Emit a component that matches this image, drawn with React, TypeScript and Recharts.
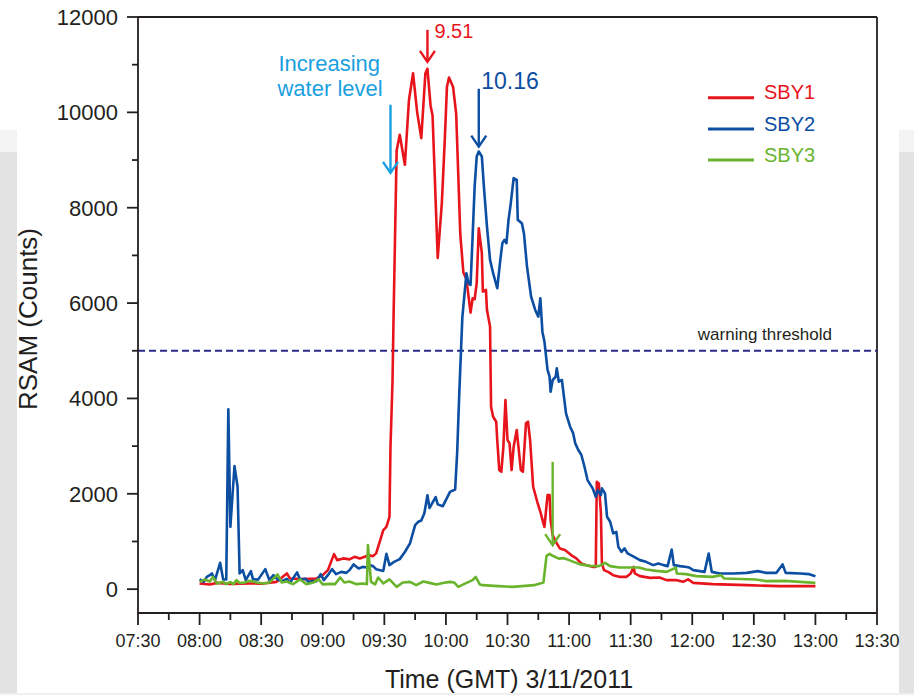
import { LineChart, Line, XAxis, YAxis, ReferenceLine, Legend } from "recharts";

const INK = "#231f20";
const RED = "#e8141c";
const BLUE = "#0b4ea2";
const GREEN = "#6ab42d";
const CYAN = "#1aa0e0";
const THRESHOLD_INK = "#2b2a8a";
const FONT = '"Liberation Sans", Arial, Helvetica, sans-serif';

// [minutes after midnight GMT, RSAM counts]
const SBY1: [number, number][] = [
  [480, 120], [485, 99], [488.5, 132], [495, 110], [504.5, 120], [510, 115], [517.5, 153], [522.5, 330],
  [524, 225], [530.5, 210], [537, 225], [540, 294], [542.5, 399], [545.5, 735], [547, 609], [550, 645],
  [553, 624], [555.5, 678], [558, 645], [560.5, 678], [562, 714], [564.5, 693], [566, 750], [568, 1029],
  [569.5, 1239], [571, 1308], [572.5, 1518], [573, 2987], [574, 4387], [574.5, 5716], [576, 9200],
  [577.5, 9530], [580, 8900], [582, 10260], [584, 10820], [586, 10000], [588, 9460], [590, 10820],
  [591, 10915], [592.5, 10150], [593.5, 9930], [596, 6945], [598, 8090], [599.5, 9470], [600.5, 10530],
  [601.5, 10730], [603.5, 10530], [605, 9970], [607, 7450], [607.5, 7180], [608.5, 6640], [610, 6500],
  [612, 5800], [613, 6100], [614, 6080], [615, 6420], [616, 7570], [617.5, 7046], [618, 6241],
  [619.5, 6276], [620, 5856], [621.5, 5506], [622, 3827], [623, 3617], [624.5, 3512], [625, 3128],
  [626, 2498], [627, 2462], [628, 2987], [629, 3967], [630, 3128], [631, 3058], [632, 2498], [633, 2987],
  [634.5, 3337], [635.5, 2918], [636.5, 2498], [637.5, 2462], [639, 3478], [640, 3512], [641, 3128],
  [642.5, 2148], [644.5, 1833], [646, 1623], [647.5, 1379], [648, 1308], [649.5, 1973], [650.5, 1973],
  [651, 1449], [652, 1134], [654, 959], [655.5, 854], [658, 819], [661, 714], [663.5, 645], [666, 539],
  [668.5, 504], [671.5, 468], [673, 468], [673.5, 2252], [674.5, 2218], [675.5, 1589], [676, 539],
  [677, 399], [679, 363], [681.5, 294], [684.5, 258], [688, 258], [690, 330], [691.5, 468], [692, 330],
  [694.5, 273], [699.5, 237], [704, 245], [707.5, 189], [712.5, 189], [715.5, 153], [718, 204],
  [720.5, 132], [730, 105], [746.5, 84], [762.5, 63], [780, 63],
];

const SBY2: [number, number][] = [
  [480, 204], [482, 153], [483.5, 258], [485, 294], [486, 330], [487.5, 189], [490, 552], [491.5, 204],
  [493, 204], [494, 3773], [495, 1308], [497, 2583], [498.5, 2148], [499.5, 330], [501, 399], [502.5, 189],
  [505, 378], [506, 210], [508.5, 200], [512, 420], [514, 189], [516, 294], [518, 204], [520, 168],
  [522.5, 216], [524, 132], [527.5, 351], [529, 204], [531.5, 220], [533, 153], [535, 168], [537, 168],
  [539, 315], [540.5, 189], [542.5, 294], [544.5, 420], [546.5, 315], [549, 363], [551.5, 342], [553, 399],
  [555, 519], [557.5, 435], [559.5, 468], [561.5, 456], [562.5, 504], [564.5, 483], [566, 420],
  [568.5, 391], [569.5, 384], [571, 740], [572.5, 504], [575, 579], [577.5, 630], [580, 780], [582.5, 960],
  [585, 1344], [586.5, 1413], [588, 1440], [589.5, 1591], [591, 1970], [592, 1702], [595, 1929],
  [596, 1778], [598.5, 1740], [602, 2040], [604.5, 2090], [605.5, 2880], [606.5, 4100], [608, 5700],
  [610, 6627], [611, 6417], [612, 6380], [613, 7394], [614, 8444], [615, 9074], [616, 9179],
  [617.5, 9074], [618.5, 8444], [620, 7604], [621.5, 6906], [623, 6627], [625, 6311], [626.5, 6906],
  [627.5, 7256], [628.5, 7326], [629.5, 7256], [630.5, 7745], [631.5, 8060], [633, 8620], [634.5, 8585],
  [635, 7745], [637, 7676], [638, 7466], [639.5, 6765], [641.5, 6136], [643.5, 5856], [645, 5716],
  [646, 6101], [647, 5400], [648, 5191], [649.5, 4600], [650.5, 4456], [651, 4141], [652, 4387],
  [653.5, 4456], [654, 4632], [655, 4351], [656.5, 4387], [657.5, 4036], [658.5, 3688], [660.5, 3407],
  [662, 3267], [663, 3058], [664.5, 2918], [666, 2813], [667.5, 2567], [669, 2288], [671.5, 2114],
  [673, 1937], [674, 2078], [675.5, 1973], [676, 2114], [677.5, 2009], [678.5, 1518], [680, 1413],
  [681.5, 1169], [683, 1203], [684, 888], [685.5, 783], [687, 854], [688.5, 749], [691, 693], [694.5, 609],
  [697.5, 573], [701, 504], [703.5, 539], [706, 504], [708, 483], [710, 830], [711, 504], [714, 483],
  [716.5, 470], [718.5, 455], [720.5, 399], [726, 363], [728, 749], [729.5, 363], [733.5, 330], [740, 330],
  [746.5, 342], [752, 378], [756, 342], [761, 342], [764, 519], [765.5, 342], [772.5, 330], [777, 315],
  [780, 273],
];

const SBY3: [number, number][] = [
  [480, 153], [482.5, 204], [485, 160], [486.5, 258], [488.5, 120], [491.5, 153], [493, 105], [495, 150],
  [496.5, 105], [498, 189], [499.5, 130], [502, 140], [504.5, 174], [508, 140], [511, 120], [514, 140],
  [518, 309], [520, 140], [522.5, 160], [525.5, 105], [529, 204], [532, 105], [535.5, 140], [538, 204],
  [540, 100], [543.5, 110], [546, 105], [548.5, 245], [550.5, 140], [553, 160], [556.5, 105], [559.5, 120],
  [561.5, 105], [562, 924], [563.5, 153], [565.5, 100], [567, 245], [569.5, 120], [572.5, 204], [576, 48],
  [579, 140], [582.5, 153], [585.5, 84], [589, 160], [592, 132], [595.5, 99], [598.5, 130], [602, 153],
  [604, 140], [606, 48], [609, 110], [613, 189], [614.5, 258], [616.5, 100], [618, 84], [623.5, 69],
  [632.5, 48], [643, 84], [647.5, 140], [649, 700], [650.5, 740], [652, 700], [655, 640], [657.5, 650],
  [660, 609], [665, 525], [670, 489], [674.5, 483], [677.5, 552], [680, 483], [684.5, 455], [694, 455],
  [697.5, 413], [702.5, 384], [707.5, 363], [712, 450], [712.5, 330], [717, 315], [722, 273], [730, 258],
  [734, 294], [735.5, 225], [751, 204], [756, 168], [765, 174], [780, 132],
];

const TIME_LABELS = ["07:30", "08:00", "08:30", "09:00", "09:30", "10:00", "10:30", "11:00", "11:30", "12:00", "12:30", "13:00", "13:30"];
const COUNT_LABELS = [0, 2000, 4000, 6000, 8000, 10000, 12000];
const WARNING_LEVEL = 5000;

// peak markers: label is the clock time (h.mm) the arrow points at
const PEAK_NOTES = [
  { label: "9.51", color: RED, from: 11730, to: 11060, fontSize: 20, dx: 7, dy: 8 },
  { label: "10.16", color: BLUE, from: 10495, to: 9280, fontSize: 23, dx: 2.5, dy: 0 },
];
const WATER_NOTE = { lines: ["Increasing", "water level"], time: 573, from: 10160, to: 8730 };
const SBY3_MARK = { time: 652, from: 2670, to: 925 };

const SERIES = [
  { name: "SBY1", color: RED, points: SBY1 },
  { name: "SBY2", color: BLUE, points: SBY2 },
  { name: "SBY3", color: GREEN, points: SBY3 },
];

const toMinutes = (hhmm: string) => {
  const [h, m] = hhmm.split(/[:.]/).map(Number);
  return h * 60 + m;
};
const pad = (n: number) => String(n).padStart(2, "0");
const clock = (min: number) => `${pad(Math.floor(min / 60))}:${pad(min % 60)}`;

const majorTimes = TIME_LABELS.map(toMinutes);
const timeTicks = majorTimes.flatMap((t, i) => (i < majorTimes.length - 1 ? [t, t + 15] : [t]));
const countTicks = COUNT_LABELS.flatMap((v, i) => (i < COUNT_LABELS.length - 1 ? [v, v + 1000] : [v]));

function TimeTick({ x, y, payload }: any) {
  const major = payload.value % 30 === 0;
  return (
    <g>
      <line x1={x} x2={x} y1={y} y2={y + (major ? 12 : 7)} stroke={INK} strokeWidth={1.8} />
      {major && (
        <text x={x} y={y + 34} textAnchor="middle" fontSize={18} fill={INK} fontFamily={FONT}>
          {clock(payload.value)}
        </text>
      )}
    </g>
  );
}

function CountTick({ x, y, payload }: any) {
  const major = payload.value % 2000 === 0;
  return (
    <g>
      <line x1={x - (major ? 11 : 6)} x2={x} y1={y} y2={y} stroke={INK} strokeWidth={1.8} />
      {major && (
        <text x={x - 20} y={y} dy="0.36em" textAnchor="end" fontSize={22} fill={INK} fontFamily={FONT}>
          {payload.value}
        </text>
      )}
    </g>
  );
}

function ThresholdLabel({ viewBox }: any) {
  const { x, y, width } = viewBox;
  return (
    <text x={x + width - 45} y={y - 11} textAnchor="end" fontSize={17} fill={INK} fontFamily={FONT}>
      warning threshold
    </text>
  );
}

// vertical arrow drawn on a reference segment, head at the lower end
function arrow(color: string, note?: (x: number, y: number) => any) {
  return (p: any) => {
    const top = p.y1 < p.y2 ? { x: p.x1, y: p.y1 } : { x: p.x2, y: p.y2 };
    const tip = p.y1 < p.y2 ? { x: p.x2, y: p.y2 } : { x: p.x1, y: p.y1 };
    return (
      <g>
        <line x1={top.x} y1={top.y} x2={tip.x} y2={tip.y} stroke={color} strokeWidth={2.4} />
        <polyline
          points={`${tip.x - 7.5},${tip.y - 11} ${tip.x},${tip.y} ${tip.x + 7.5},${tip.y - 11}`}
          fill="none"
          stroke={color}
          strokeWidth={2.4}
        />
        {note && note(top.x, top.y)}
      </g>
    );
  };
}

function SeriesKey({ payload }: any) {
  return (
    <svg width={160} height={100}>
      {(payload || []).map((item: any, i: number) => (
        <g key={item.value}>
          <line x1={0} x2={46} y1={17.7 + i * 31.2} y2={17.7 + i * 31.2} stroke={item.color} strokeWidth={3} />
          <text x={56} y={19.3 + i * 31.2} fontSize={20} fill={item.color} fontFamily={FONT}>
            {item.value}
          </text>
        </g>
      ))}
    </svg>
  );
}

export default function App() {
  return (
    <div style={{ position: "absolute", left: 0, top: 0, width: 914, height: 695, background: "#fff", overflow: "hidden", fontFamily: FONT }}>
      {/* grey page edges behind the figure */}
      <div style={{ position: "absolute", left: 0, top: 130, width: 17, height: 22, background: "#f3f3f3" }} />
      <div style={{ position: "absolute", left: 0, top: 152, width: 17, height: 541, background: "#e3e3e3" }} />
      <div style={{ position: "absolute", left: 899, top: 130, width: 15, height: 22, background: "#f3f3f3" }} />
      <div style={{ position: "absolute", left: 899, top: 152, width: 15, height: 541, background: "#e3e3e3" }} />
      <div style={{ position: "absolute", left: 0, top: 693, width: 914, height: 2, background: "#f0f0f0" }} />

      <div style={{ position: "absolute", left: 0, top: 0 }}>
        <LineChart width={914} height={695} margin={{ top: 17, right: 37, bottom: 42, left: 0 }}>
          <XAxis
            type="number"
            dataKey="t"
            domain={[450, 810]}
            ticks={timeTicks}
            interval={0}
            height={40}
            tickSize={0}
            tickMargin={0}
            tickLine={false}
            tick={<TimeTick />}
            axisLine={{ stroke: INK, strokeWidth: 1.8 }}
            allowDataOverflow
          />
          <YAxis
            type="number"
            domain={[-500, 12000]}
            ticks={countTicks}
            interval={0}
            width={138}
            tickSize={0}
            tickMargin={0}
            tickLine={false}
            tick={<CountTick />}
            axisLine={{ stroke: INK, strokeWidth: 1.8 }}
            allowDataOverflow
          />
          <ReferenceLine y={12000} stroke={INK} strokeWidth={1.8} />
          <ReferenceLine x={810} stroke={INK} strokeWidth={1.8} />
          <ReferenceLine
            y={WARNING_LEVEL}
            stroke={THRESHOLD_INK}
            strokeWidth={2.2}
            strokeDasharray="7 4"
            label={<ThresholdLabel />}
          />
          {SERIES.map((s) => (
            <Line
              key={s.name}
              name={s.name}
              data={s.points.map(([t, v]) => ({ t, v }))}
              dataKey="v"
              type="linear"
              stroke={s.color}
              strokeWidth={2.6}
              strokeLinejoin="round"
              dot={false}
              activeDot={false}
              isAnimationActive={false}
            />
          ))}
          {PEAK_NOTES.map((n) => (
            <ReferenceLine
              key={n.label}
              segment={[{ x: toMinutes(n.label), y: n.from }, { x: toMinutes(n.label), y: n.to }]}
              stroke={n.color}
              shape={arrow(n.color, (x, y) => (
                <text x={x + n.dx} y={y + n.dy} fontSize={n.fontSize} fill={n.color} fontFamily={FONT}>
                  {n.label}
                </text>
              ))}
            />
          ))}
          <ReferenceLine
            segment={[{ x: WATER_NOTE.time, y: WATER_NOTE.from }, { x: WATER_NOTE.time, y: WATER_NOTE.to }]}
            stroke={CYAN}
            shape={arrow(CYAN, (x, y) => (
              <g fontSize={22} fill={CYAN} fontFamily={FONT}>
                <text x={x - 112} y={y - 34}>{WATER_NOTE.lines[0]}</text>
                <text x={x - 113} y={y - 8.5}>{WATER_NOTE.lines[1]}</text>
              </g>
            ))}
          />
          <ReferenceLine
            segment={[{ x: SBY3_MARK.time, y: SBY3_MARK.from }, { x: SBY3_MARK.time, y: SBY3_MARK.to }]}
            stroke={GREEN}
            shape={arrow(GREEN)}
          />
          <Legend
            layout="horizontal"
            align="center"
            verticalAlign="middle"
            content={<SeriesKey />}
            wrapperStyle={{ left: 708, top: 80, width: 160, height: 100 }}
          />
        </LineChart>
      </div>

      <svg width={914} height={695} style={{ position: "absolute", left: 0, top: 0, pointerEvents: "none" }}>
        <text transform="translate(37,319) rotate(-90)" textAnchor="middle" fontSize={26} fill={INK} fontFamily={FONT}>
          RSAM (Counts)
        </text>
        <text x={509} y={688} textAnchor="middle" fontSize={25} fill={INK} fontFamily={FONT}>
          Time (GMT) 3/11/2011
        </text>
      </svg>
    </div>
  );
}
